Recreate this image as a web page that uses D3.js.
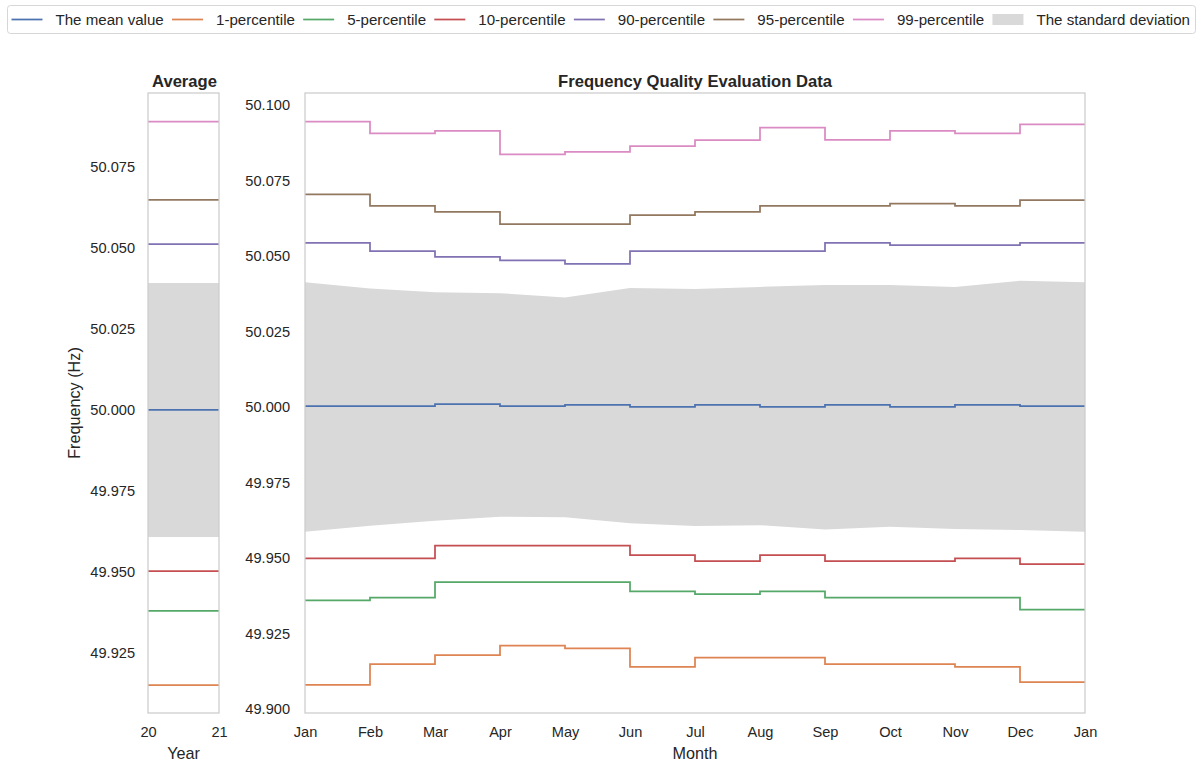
<!DOCTYPE html>
<html>
<head>
<meta charset="utf-8">
<script src="https://cdn.jsdelivr.net/npm/d3@7"></script>
<style>
  html, body { margin: 0; padding: 0; background: #fff; }
  svg { display: block; font-family: "Liberation Sans", Arial, sans-serif; }
</style>
</head>
<body>
<svg id="chart" width="1198" height="763"></svg>
<script>
// ---------------- DATA ----------------
const monthLabels = ["Jan","Feb","Mar","Apr","May","Jun","Jul","Aug","Sep","Oct","Nov","Dec","Jan"];
const yearTicks = [20, 21];
const yTicksMain = [49.900, 49.925, 49.950, 49.975, 50.000, 50.025, 50.050, 50.075, 50.100];
const yTicksAvg = [49.925, 49.950, 49.975, 50.000, 50.025, 50.050, 50.075];

const seriesNames = ["The mean value","1-percentile","5-percentile","10-percentile","90-percentile","95-percentile","99-percentile"];
const seriesColors = ["#4c72b0","#dd8452","#55a868","#c44e52","#8172b3","#937860","#da8bc3"];

// monthly values (Jan..Dec), drawn as steps
const meanValues = [50.0003,50.0003,50.0010,50.0003,50.0007,50.0001,50.0007,50.0001,50.0007,50.0001,50.0007,50.0003];
const p1Values   = [49.9080,49.9149,49.9179,49.9210,49.9201,49.9140,49.9170,49.9170,49.9149,49.9149,49.9140,49.9089];
const p5Values   = [49.9360,49.9369,49.9420,49.9420,49.9420,49.9390,49.9381,49.9390,49.9369,49.9369,49.9369,49.9329];
const p10Values  = [49.9499,49.9499,49.9541,49.9541,49.9541,49.9510,49.9490,49.9510,49.9490,49.9490,49.9499,49.9480];
const p90Values  = [50.0544,50.0516,50.0497,50.0486,50.0474,50.0516,50.0516,50.0516,50.0544,50.0536,50.0536,50.0544];
const p95Values  = [50.0704,50.0666,50.0646,50.0606,50.0606,50.0636,50.0646,50.0666,50.0666,50.0674,50.0666,50.0685];
const p99Values  = [50.0945,50.0906,50.0915,50.0837,50.0845,50.0864,50.0884,50.0925,50.0885,50.0915,50.0906,50.0936];

// standard deviation band at month boundaries (Jan..Jan)
const stdUpper = [50.0413,50.0393,50.0380,50.0377,50.0363,50.0394,50.0391,50.0398,50.0404,50.0404,50.0398,50.0418,50.0413];
const stdLower = [49.9587,49.9607,49.9624,49.9637,49.9635,49.9615,49.9606,49.9609,49.9595,49.9604,49.9596,49.9593,49.9587];

// yearly averages
const avgValues = [50.0000,49.9151,49.9380,49.9503,50.0512,50.0648,50.0890];
const avgStdUpper = 50.0392;
const avgStdLower = 49.9608;

// ---------------- LAYOUT ----------------
const svg = d3.select("#chart");
const textColor = "#262626";
const spineColor = "#cccccc";
const bandColor = "#d9d9d9";
const tickFs = 14.6;
const labelFs = 16.2;
const titleFs = 16.6;
const legendFs = 15.1;

const mainSeries = [meanValues, p1Values, p5Values, p10Values, p90Values, p95Values, p99Values];

const avgBox = {x0: 148, x1: 219, y0: 93, y1: 713};
const mainBox = {x0: 305, x1: 1085, y0: 93, y1: 713};

// ---------- average panel ----------
const xAvg = d3.scaleLinear().domain([20, 21]).range([avgBox.x0, avgBox.x1]);
const yAvg = d3.scaleLinear().domain([49.9065, 50.0978]).range([avgBox.y1, avgBox.y0]);

const gA = svg.append("g");
gA.append("path")
  .datum(yearTicks)
  .attr("fill", bandColor)
  .attr("d", d3.area().x(d => xAvg(d)).y0(() => yAvg(avgStdLower)).y1(() => yAvg(avgStdUpper)));

avgValues.forEach((v, i) => {
  gA.append("path")
    .datum(yearTicks)
    .attr("fill", "none")
    .attr("stroke", seriesColors[i])
    .attr("stroke-width", 1.75)
    .attr("d", d3.line().x(d => xAvg(d)).y(() => yAvg(v)));
});

gA.append("rect")
  .attr("x", avgBox.x0).attr("y", avgBox.y0)
  .attr("width", avgBox.x1 - avgBox.x0).attr("height", avgBox.y1 - avgBox.y0)
  .attr("fill", "none").attr("stroke", spineColor).attr("stroke-width", 1.25);

gA.append("g").attr("transform", `translate(${avgBox.x0},0)`)
  .call(d3.axisLeft(yAvg).tickValues(yTicksAvg).tickFormat(d3.format(".3f")).tickSize(0).tickPadding(13));
gA.append("g").attr("transform", `translate(0,${avgBox.y1})`)
  .call(d3.axisBottom(xAvg).tickValues(yearTicks).tickFormat(d3.format("d")).tickSize(0).tickPadding(13.5));

gA.append("text").attr("x", (avgBox.x0 + avgBox.x1) / 2 + 1).attr("y", 86.5)
  .attr("text-anchor", "middle").attr("font-weight", "bold").attr("font-size", titleFs).attr("fill", textColor)
  .text("Average");
gA.append("text").attr("x", (avgBox.x0 + avgBox.x1) / 2).attr("y", 758.5)
  .attr("text-anchor", "middle").attr("font-size", labelFs).attr("fill", textColor)
  .text("Year");
gA.append("text")
  .attr("transform", `translate(79.5,403) rotate(-90)`)
  .attr("text-anchor", "middle").attr("font-size", labelFs).attr("fill", textColor)
  .text("Frequency (Hz)");

// ---------- main panel ----------
const monthIdx = d3.range(monthLabels.length);
const xMain = d3.scaleLinear().domain([0, 12]).range([mainBox.x0, mainBox.x1]);
const yMain = d3.scaleLinear().domain([49.8987, 50.1040]).range([mainBox.y1, mainBox.y0]);

const gM = svg.append("g");
gM.append("path")
  .datum(monthIdx)
  .attr("fill", bandColor)
  .attr("d", d3.area().x(i => xMain(i)).y0(i => yMain(stdLower[i])).y1(i => yMain(stdUpper[i])));

const stepLine = d3.line().curve(d3.curveStepAfter).x(d => xMain(d[0])).y(d => yMain(d[1]));
mainSeries.forEach((vals, s) => {
  const pts = monthIdx.map(i => [i, vals[Math.min(i, vals.length - 1)]]);
  gM.append("path")
    .datum(pts)
    .attr("fill", "none")
    .attr("stroke", seriesColors[s])
    .attr("stroke-width", 1.75)
    .attr("d", stepLine);
});

gM.append("rect")
  .attr("x", mainBox.x0).attr("y", mainBox.y0)
  .attr("width", mainBox.x1 - mainBox.x0).attr("height", mainBox.y1 - mainBox.y0)
  .attr("fill", "none").attr("stroke", spineColor).attr("stroke-width", 1.25);

gM.append("g").attr("transform", `translate(${mainBox.x0},0)`)
  .call(d3.axisLeft(yMain).tickValues(yTicksMain).tickFormat(d3.format(".3f")).tickSize(0).tickPadding(15));
gM.append("g").attr("transform", `translate(0,${mainBox.y1})`)
  .call(d3.axisBottom(xMain).tickValues(monthIdx).tickFormat(i => monthLabels[i]).tickSize(0).tickPadding(13.5));

gM.append("text").attr("x", (mainBox.x0 + mainBox.x1) / 2).attr("y", 86.5)
  .attr("text-anchor", "middle").attr("font-weight", "bold").attr("font-size", titleFs).attr("fill", textColor)
  .text("Frequency Quality Evaluation Data");
gM.append("text").attr("x", (mainBox.x0 + mainBox.x1) / 2).attr("y", 759)
  .attr("text-anchor", "middle").attr("font-size", labelFs).attr("fill", textColor)
  .text("Month");

// style axes
svg.selectAll(".domain").remove();
svg.selectAll(".tick text")
  .attr("font-size", tickFs)
  .attr("font-family", "'Liberation Sans', Arial, sans-serif")
  .attr("fill", textColor);

// ---------- legend ----------
const leg = svg.append("g");
const legBox = leg.append("rect")
  .attr("x", 7.5).attr("y", 5.5).attr("width", 1188).attr("height", 28).attr("rx", 3)
  .attr("fill", "#fff").attr("stroke", "#d6d6d6").attr("stroke-width", 1);

const legendItems = seriesNames.map((n, i) => ({name: n, color: seriesColors[i], type: "line"}))
  .concat([{name: "The standard deviation", color: bandColor, type: "patch"}]);

const handleLen = 31, handleGap = 13;
const ly = 19.5;
// measure text widths first, then spread items across the legend frame
const texts = legendItems.map(it => leg.append("text").attr("font-size", legendFs).attr("fill", textColor).text(it.name));
const widths = texts.map(t => t.node().getComputedTextLength());
const startX = 11.5, endX = 1190;
const used = d3.sum(widths) + legendItems.length * (handleLen + handleGap);
const colGap = (endX - startX - used) / (legendItems.length - 1);
let cx = startX;
legendItems.forEach((it, i) => {
  if (it.type === "line") {
    leg.append("line").attr("x1", cx).attr("x2", cx + handleLen).attr("y1", ly).attr("y2", ly)
      .attr("stroke", it.color).attr("stroke-width", 1.75);
  } else {
    leg.append("rect").attr("x", cx).attr("y", ly - 5.5).attr("width", handleLen).attr("height", 11)
      .attr("fill", it.color);
  }
  texts[i].attr("x", cx + handleLen + handleGap).attr("y", ly + 5.3);
  cx = cx + handleLen + handleGap + widths[i] + colGap;
});
</script>
</body>
</html>
